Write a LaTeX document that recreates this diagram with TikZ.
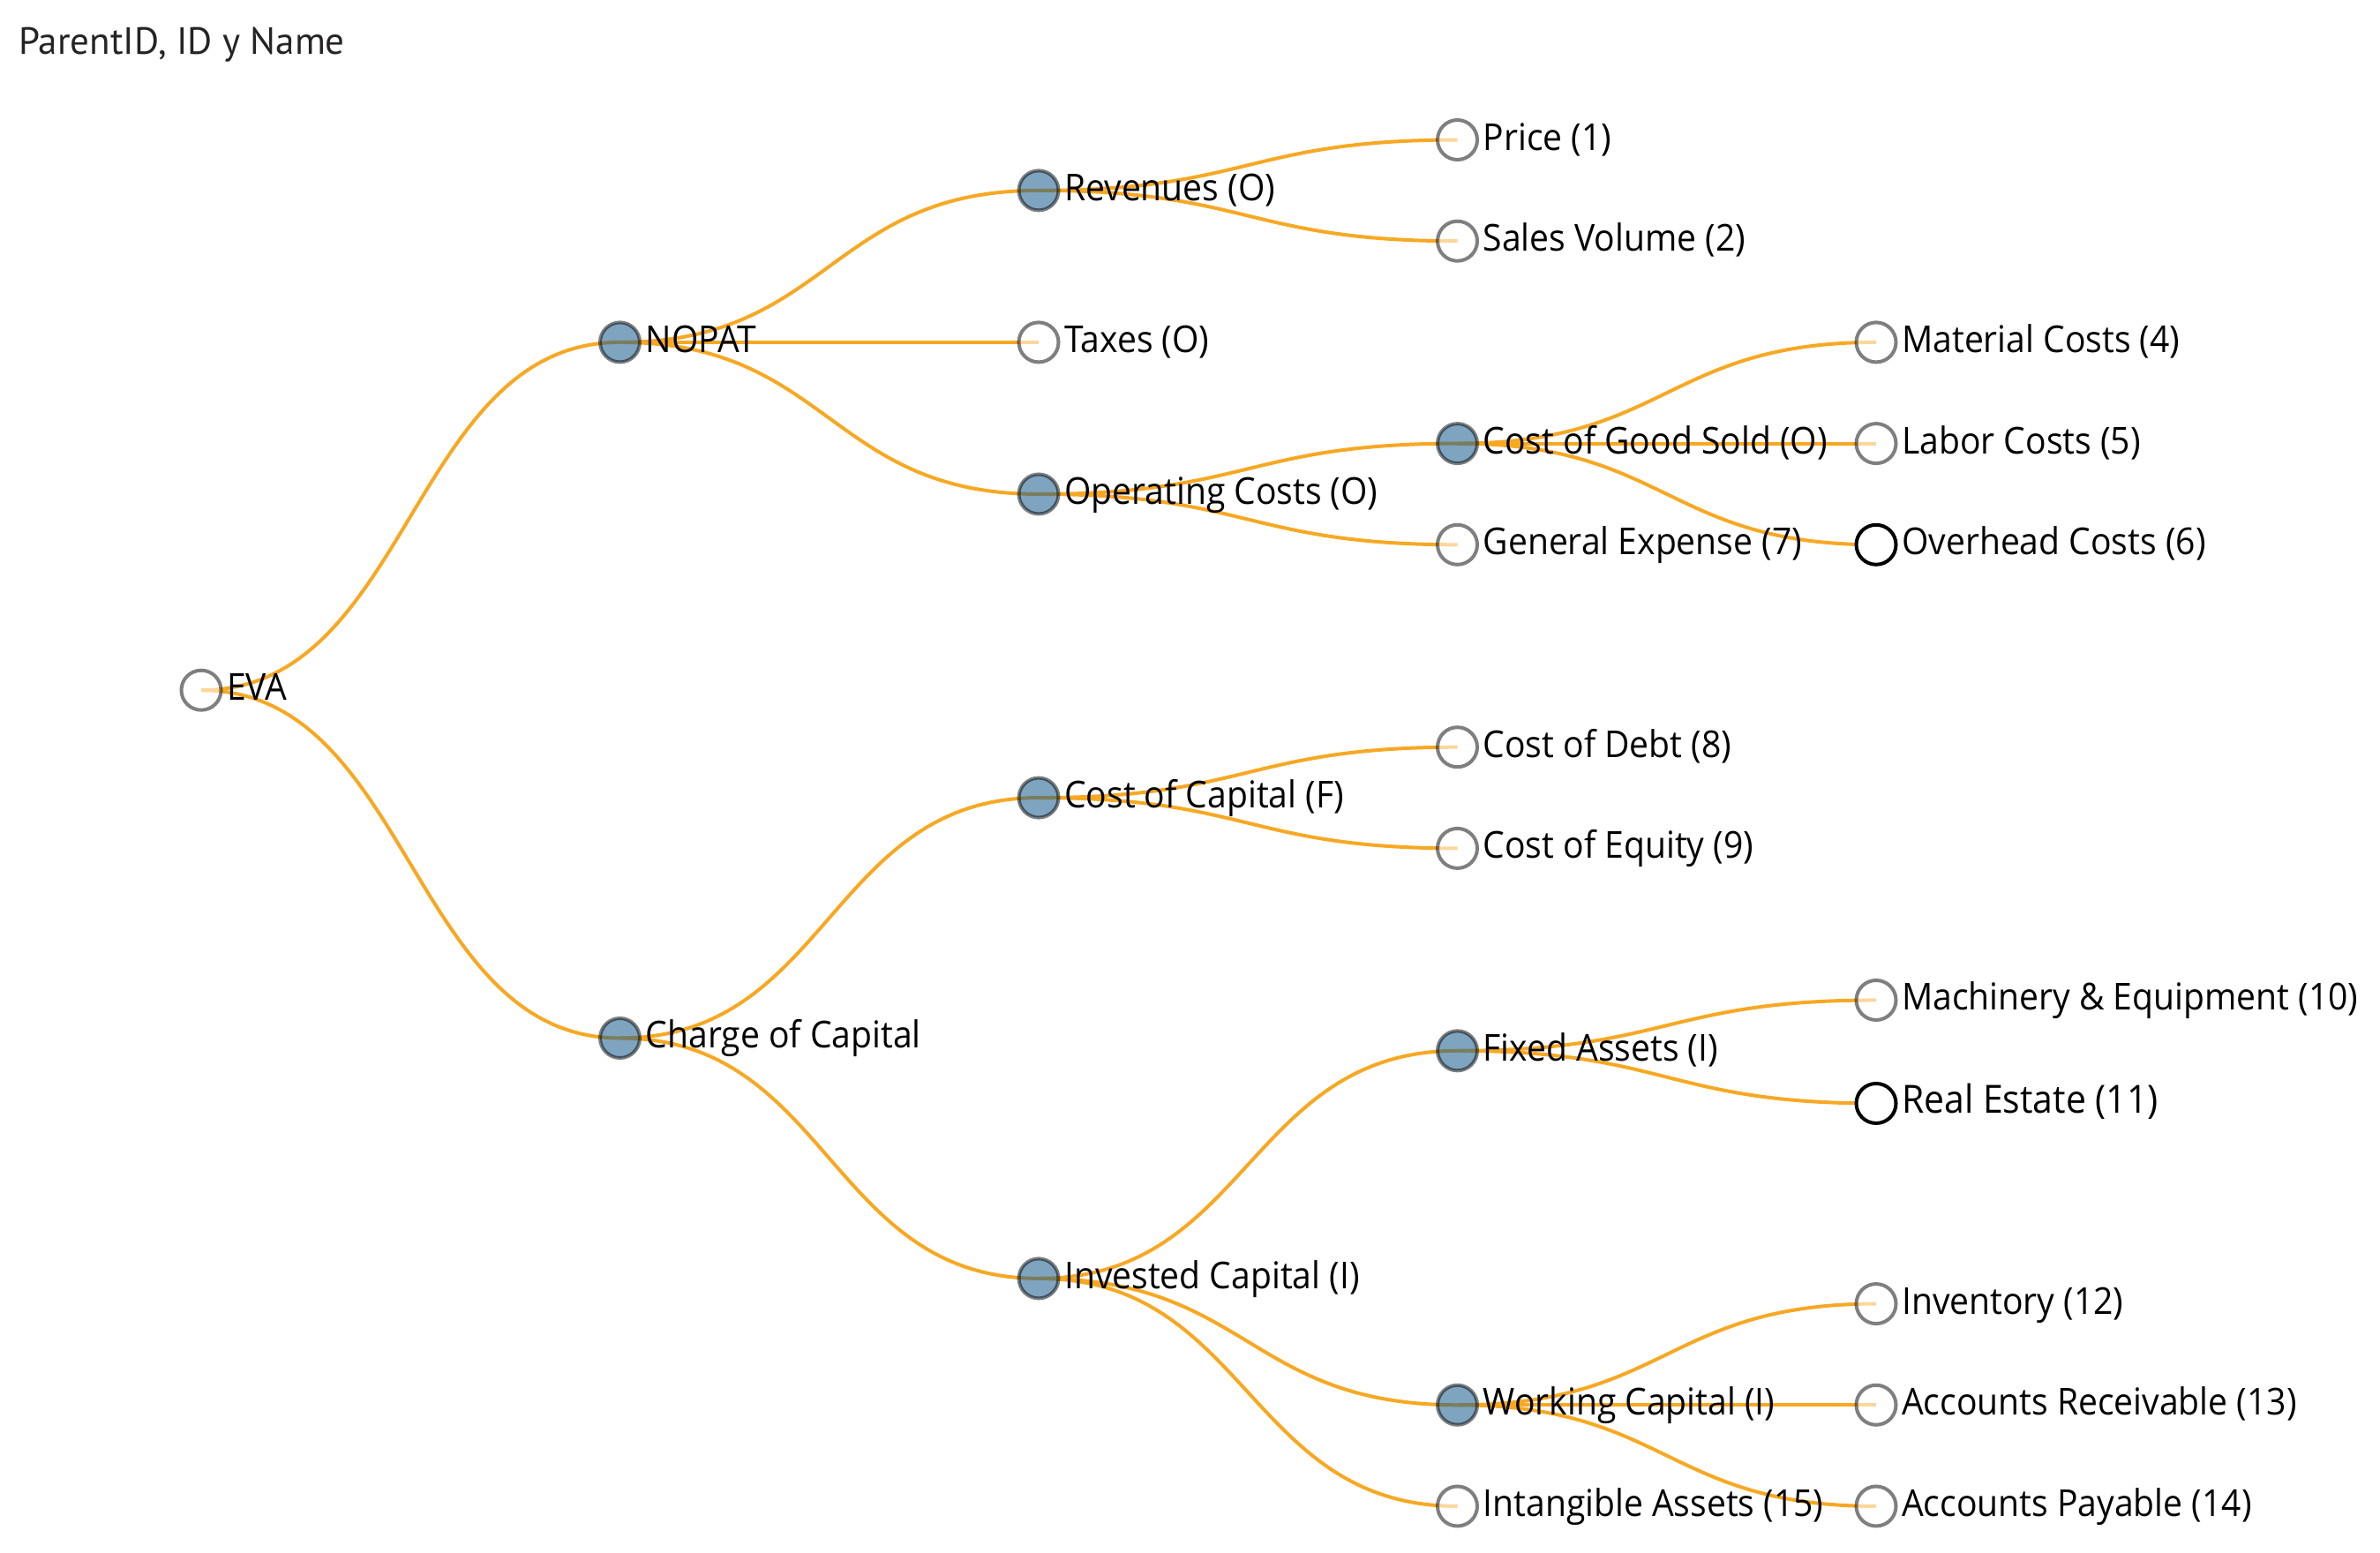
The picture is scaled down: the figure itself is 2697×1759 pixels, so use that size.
\documentclass[tikz,border=0pt]{standalone}
\usepackage{fontspec}
\setmainfont{Open Sans}
\newfontfamily\lblfont[FakeStretch=0.93]{Open Sans}
\newfontfamily\ttlfont{PT Sans}
\usetikzlibrary{calc}
\pgfdeclarelayer{links}
\pgfsetlayers{links,main}
\definecolor{linkor}{RGB}{247,168,35}
\definecolor{nodeblue}{RGB}{20,90,140}
\definecolor{ttlgray}{HTML}{252423}
\tikzset{
  dot/.style={circle, minimum size=45pt, inner sep=0pt, line width=4pt},
  plainnode/.style={dot, draw=black, draw opacity=0.5, fill=white, fill opacity=0.55},
  parentnode/.style={dot, draw=black, draw opacity=0.5, fill=nodeblue, fill opacity=0.55},
  selnode/.style={dot, draw=black, fill=white},
  lbl/.style={anchor=base west, inner sep=0pt, text=black, fill opacity=1, text opacity=1,
    font=\lblfont\fontsize{42}{50}\selectfont},
  biglbl/.style={lbl, font=\lblfont\fontsize{44}{52}\selectfont},
  link/.style={draw=linkor, line width=4pt,
    to path={.. controls ([xshift=237.25pt]\tikztostart) and ([xshift=-237.25pt]\tikztotarget) .. (\tikztotarget)}}
}
\newcommand\treenode[6][lbl]{%
  \node[#5] (#2) at ({228+474.5*#3},{158.5+114.7*#4}) {};
  \node[#1] (#2-t) at ({257+474.5*#3},{170+114.7*#4}) {#6};}
\begin{document}
\begin{tikzpicture}[x=1pt,y=-1pt]
\path[use as bounding box] (0,0) rectangle (2697,1759);
\node[anchor=base west, inner sep=0pt, text=ttlgray, font=\ttlfont\fontsize{43}{50}\selectfont] (title) at (21,61) {ParentID, ID y Name};

\treenode{eva}{0}{5.4375}{plainnode}{EVA}
\treenode{nopat}{1}{2}{parentnode}{NOPAT}
\treenode{charge}{1}{8.875}{parentnode}{Charge of Capital}
\treenode{rev}{2}{0.5}{parentnode}{Revenues (O)}
\treenode{tax}{2}{2}{plainnode}{Taxes (O)}
\treenode{opc}{2}{3.5}{parentnode}{Operating Costs (O)}
\treenode{coc}{2}{6.5}{parentnode}{Cost of Capital (F)}
\treenode{inv}{2}{11.25}{parentnode}{Invested Capital (I)}
\treenode{price}{3}{0}{plainnode}{Price (1)}
\treenode{sales}{3}{1}{plainnode}{Sales Volume (2)}
\treenode{cogs}{3}{3}{parentnode}{Cost of Good Sold (O)}
\treenode{gen}{3}{4}{plainnode}{General Expense (7)}
\treenode{debt}{3}{6}{plainnode}{Cost of Debt (8)}
\treenode{equity}{3}{7}{plainnode}{Cost of Equity (9)}
\treenode{fixed}{3}{9}{parentnode}{Fixed Assets (I)}
\treenode{work}{3}{12.5}{parentnode}{Working Capital (I)}
\treenode{intang}{3}{13.5}{plainnode}{Intangible Assets (15)}
\treenode{mat}{4}{2}{plainnode}{Material Costs (4)}
\treenode{labor}{4}{3}{plainnode}{Labor Costs (5)}
\treenode{over}{4}{4}{selnode}{Overhead Costs (6)}
\treenode{mach}{4}{8.5}{plainnode}{Machinery \& Equipment (10)}
\treenode[biglbl]{real}{4}{9.52}{selnode}{Real Estate (11)}
\treenode{invy}{4}{11.5}{plainnode}{Inventory (12)}
\treenode{ar}{4}{12.5}{plainnode}{Accounts Receivable (13)}
\treenode{ap}{4}{13.5}{plainnode}{Accounts Payable (14)}

\begin{pgfonlayer}{links}
\foreach \a/\b in {eva/nopat, eva/charge, nopat/rev, nopat/tax, nopat/opc,
  rev/price, rev/sales, opc/cogs, opc/gen, cogs/mat, cogs/labor, cogs/over,
  charge/coc, charge/inv, coc/debt, coc/equity, inv/fixed, inv/work, inv/intang,
  fixed/mach, fixed/real, work/invy, work/ar, work/ap}
  \draw[link] (\a.center) to (\b.center);
\end{pgfonlayer}
\end{tikzpicture}
\end{document}
